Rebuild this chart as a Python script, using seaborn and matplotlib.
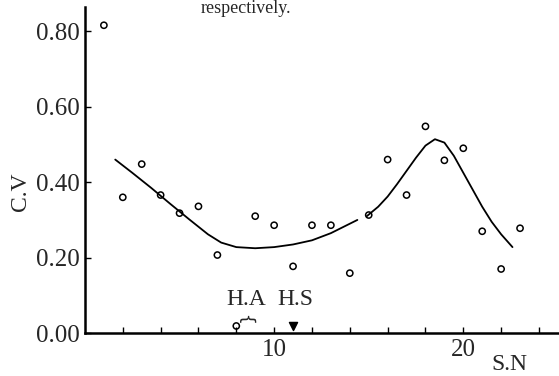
import matplotlib
matplotlib.use("Agg")
import matplotlib.pyplot as plt
import seaborn as sns
import pandas as pd

# Data
sn = list(range(1, 24))
cv = [0.816, 0.36, 0.448, 0.366, 0.318, 0.336, 0.207, 0.019, 0.31, 0.286, 0.177,
      0.286, 0.286, 0.159, 0.313, 0.46, 0.366, 0.548, 0.458, 0.49, 0.27, 0.17, 0.278]

curve1_x = [1.6, 2.5, 3.5, 4.5, 5.5, 6.5, 7.2, 8.0, 9.0, 10.0, 11.0, 12.0, 13.0, 14.0, 14.4]
curve1_y = [0.46, 0.425, 0.385, 0.343, 0.302, 0.262, 0.24, 0.228, 0.225, 0.228, 0.235, 0.246, 0.265, 0.29, 0.30]
curve2_x = [14.9, 15.5, 16.0, 16.5, 17.0, 17.5, 18.0, 18.5, 19.0, 19.5, 20.0, 20.5, 21.0, 21.5, 22.0, 22.6]
curve2_y = [0.31, 0.335, 0.362, 0.395, 0.43, 0.465, 0.497, 0.514, 0.505, 0.47, 0.425, 0.38, 0.335, 0.295, 0.262, 0.228]

yticks = [0.0, 0.2, 0.4, 0.6, 0.8]
ytick_labels = ["0.00", "0.20", "0.40", "0.60", "0.80"]
xtick_major = [10, 20]
xtick_minor = [2, 4, 6, 8, 12, 14, 16, 18, 22, 24]

sns.set_theme(style="ticks")
plt.rcParams["font.family"] = ["Liberation Serif", "DejaVu Serif"]

fig = plt.figure(figsize=(5.59, 3.76), dpi=100)
ax = fig.add_axes([0.152, 0.114, 0.846, 0.867])

df_pts = pd.DataFrame({"sn": sn, "cv": cv})
sns.scatterplot(data=df_pts, x="sn", y="cv", ax=ax, marker="o", s=20,
                facecolor="none", edgecolor="black", linewidth=1.1)
sns.lineplot(x=curve1_x, y=curve1_y, ax=ax, color="black", linewidth=1.3)
sns.lineplot(x=curve2_x, y=curve2_y, ax=ax, color="black", linewidth=1.3)

ax.set_xlim(0, 25)
ax.set_ylim(0, 0.864)
ax.set_yticks(yticks)
ax.set_yticklabels(ytick_labels, fontsize=18)
ax.set_xticks(xtick_major)
ax.set_xticklabels([str(v) for v in xtick_major], fontsize=18)
ax.set_xticks(xtick_minor, minor=True)
ax.tick_params(axis="both", which="both", direction="in", length=4, width=1.0, color="black")
ax.tick_params(axis="y", pad=4)
ax.tick_params(axis="x", pad=4)
sns.despine(ax=ax)
for s in ["left", "bottom"]:
    ax.spines[s].set_linewidth(1.8)
    ax.spines[s].set_color("black")

ax.set_xlabel("")
ax.set_ylabel("")
fig.text(0.036, 0.49, "C.V", rotation=90, fontsize=17, ha="center", va="center")
fig.text(0.911, 0.03, "S.N", fontsize=17, ha="center", va="center")
fig.text(0.44, 0.999, "respectively.", fontsize=13, ha="center", va="top")

ax.text(8.5, 0.09, "H.A", fontsize=17, ha="center", va="center")
ax.text(8.6, 0.045, "}", rotation=90, fontsize=13, ha="center", va="center",
        family="DejaVu Sans")
ax.text(11.1, 0.09, "H.S", fontsize=17, ha="center", va="center")
ax.scatter([11], [0.018], marker="v", s=34, color="black", zorder=5, clip_on=False)

fig.savefig("out.png", dpi=100)
